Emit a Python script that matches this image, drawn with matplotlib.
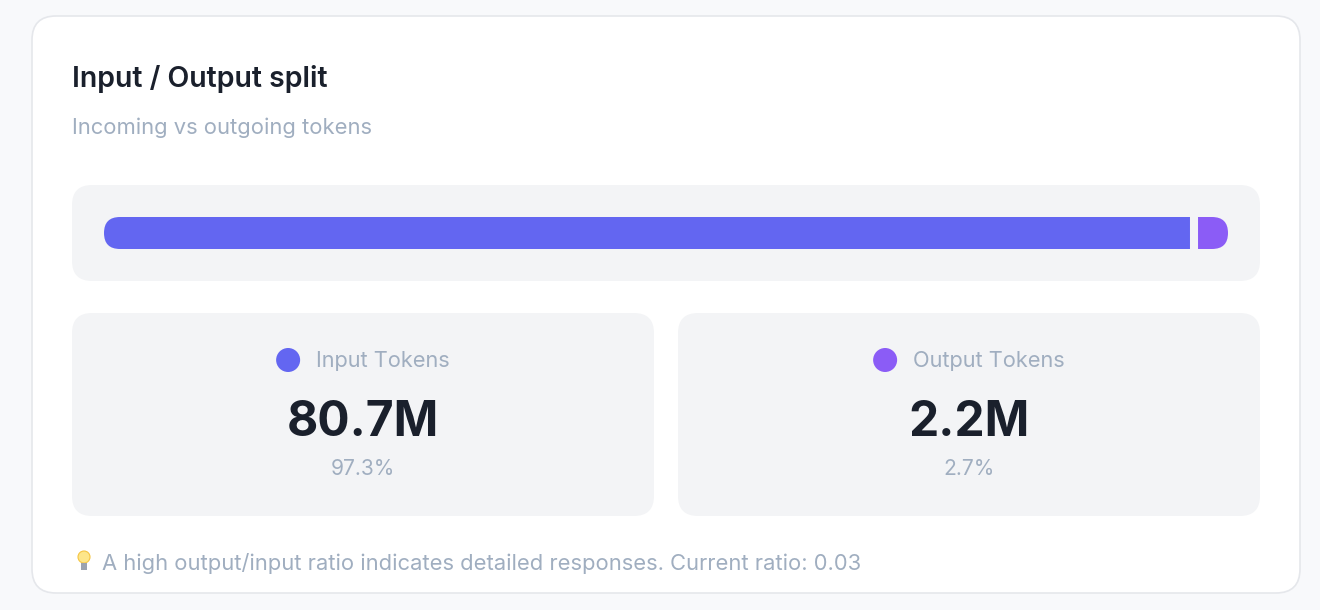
import matplotlib
matplotlib.use('Agg')
import matplotlib.pyplot as plt
from matplotlib.patches import FancyBboxPatch, Circle, Rectangle
from matplotlib.transforms import offset_copy

plt.rcParams['font.family'] = ['Inter', 'DejaVu Sans']

# data
labels = ['Input Tokens', 'Output Tokens']
tokens_m = [80.7, 2.2]
shares = [97.3, 2.7]
colors = ['#6366f1', '#8b5cf6']
title = 'Input / Output split'
subtitle = 'Incoming vs outgoing tokens'
ratio = 0.03

DARK = '#1a202c'
GREY = '#a0aec0'
TRACK = '#f3f4f6'

fig = plt.figure(figsize=(13.2, 6.1), dpi=100)
fig.patch.set_facecolor('#f8f9fb')
ax = fig.add_axes([0, 0, 1, 1])
ax.set_xlim(0, 1320)
ax.set_ylim(610, 0)
ax.axis('off')


def rbox(x, y, w, h, r, fc, ec='none', lw=0, z=1):
    p = FancyBboxPatch((x, y), w, h, boxstyle='round,pad=0,rounding_size=%d' % r,
                       fc=fc, ec=ec, lw=lw, zorder=z)
    ax.add_patch(p)
    return p


# card
rbox(32, 16, 1268, 577, 24, 'white', ec='#e5e7eb', lw=1.2)
ax.text(72, 79, title, fontsize=20.5, fontweight='semibold', color=DARK, va='center')
ax.text(72, 128, subtitle, fontsize=15.8, color=GREY, va='center')

# track
rbox(72, 185, 1188, 96, 20, TRACK, z=2)

# split bar in its own axes
bx0, bx1, by0, by1 = 104, 1228, 217, 249
bax = fig.add_axes([bx0 / 1320, 1 - by1 / 610, (bx1 - bx0) / 1320, (by1 - by0) / 610])
bax.axis('off')
total = sum(tokens_m)
bax.set_xlim(0, total)
bax.set_ylim(-0.5, 0.5)
left = 0
for v, c in zip(tokens_m, colors):
    bax.barh(0, v, left=left, height=1.0, color=c, zorder=2)
    left += v
clip = FancyBboxPatch((bx0, by0), bx1 - bx0, by1 - by0,
                      boxstyle='round,pad=0,rounding_size=16',
                      transform=ax.transData, fc='none', ec='none')
for p in bax.patches:
    p.set_clip_path(clip)
# gap sits just before the output segment
sep = bax.axvline(tokens_m[0], color=TRACK, lw=5.8, zorder=3)
sep.set_transform(offset_copy(bax.get_xaxis_transform(), fig=fig, x=-4, units='dots'))

# stat boxes
fig.canvas.draw()
renderer = fig.canvas.get_renderer()
for i, (lab, v, s, c) in enumerate(zip(labels, tokens_m, shares, colors)):
    x0 = 72 + i * 606
    rbox(x0, 313, 582, 203, 20, TRACK, z=2)
    cx = x0 + 291
    t = ax.text(0, 361, lab, fontsize=15.7, color=GREY, va='center', ha='left', zorder=3)
    tw = t.get_window_extent(renderer).width
    start = cx - (24 + 16 + tw) / 2
    t.set_x(start + 40)
    ax.add_patch(Circle((start + 12, 360), 12, fc=c, ec='none', zorder=3))
    ax.text(cx, 423, '%.1fM' % v, fontsize=34.5, fontweight='bold', color=DARK,
            va='center', ha='center', zorder=3)
    ax.text(cx, 469, '%.1f%%' % s, fontsize=15.1, color=GREY, va='center', ha='center', zorder=3)

# footer with a small bulb drawn
ax.add_patch(Circle((84, 557), 6, fc='#fde68a', ec='#f5c542', lw=0.8, zorder=3))
ax.add_patch(Rectangle((81, 563), 6, 7, fc='#9ca3af', ec='none', zorder=3))
ax.text(102, 563, 'A high output/input ratio indicates detailed responses. Current ratio: %.2f' % ratio,
        fontsize=15.8, color=GREY, va='center')

fig.savefig('out.png', dpi=100, facecolor=fig.get_facecolor())
